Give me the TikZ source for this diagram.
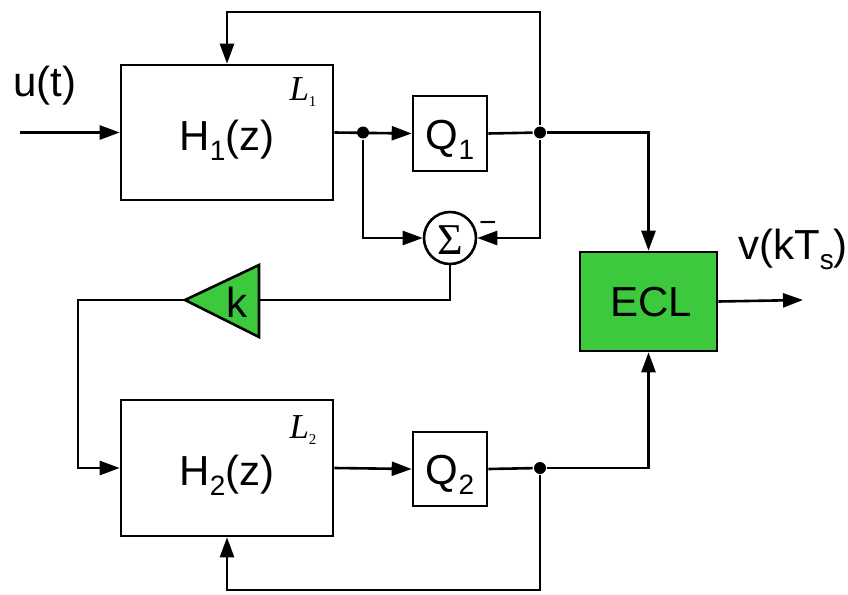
\documentclass[tikz,border=0pt]{standalone}
\usepackage{fontspec}
\setmainfont{Liberation Sans}
\newfontfamily\serifrm{Liberation Serif}
\usetikzlibrary{arrows.meta,calc}
\definecolor{eclgreen}{RGB}{61,201,61}
\newcommand{\lowsub}[1]{\raisebox{-10pt}{\fontsize{28}{28}\selectfont #1}}
\begin{document}
\begin{tikzpicture}[x=1pt,y=-1pt,line width=2.6pt,
  >={Triangle[length=20pt,width=14pt]},
  big/.style={font=\fontsize{42}{48}\selectfont},
  blk/.style={draw,inner sep=0pt,big},
  lbl/.style={inner sep=0pt,big},
  loopname/.style={inner sep=0pt,font=\fontsize{35}{38}\serifrm\itshape},
  dot/.style={circle,fill,inner sep=0pt,minimum size=12pt}]
\useasboundingbox (0,0) rectangle (848,594);
% blocks
\node[blk,minimum width=212pt,minimum height=135pt] (h1) at (227,132.5) {};
\node[lbl] (h1t) at (227,140) {H\lowsub{1}(z)};
\node[blk,minimum width=212pt,minimum height=136pt] (h2) at (227,468) {};
\node[lbl] (h2t) at (227,475) {H\lowsub{2}(z)};
\node[blk,minimum width=74pt,minimum height=75pt] (q1) at (450,133.5) {};
\node[lbl] (q1t) at (450,140) {Q\lowsub{1}};
\node[blk,minimum width=74pt,minimum height=74pt] (q2) at (450,469) {};
\node[lbl] (q2t) at (450,475) {Q\lowsub{2}};
\node[blk,fill=eclgreen,minimum width=137pt,minimum height=99pt] (ecl) at (648.5,301.5) {};
\node[lbl] (eclt) at (651,302) {ECL};
\node[draw,circle,inner sep=0pt,minimum size=52pt] (sum) at (450,238) {};
\node[inner sep=0pt,font=\fontsize{44}{48}\serifrm] (sumt) at (450,240) {Σ};
\node[inner sep=0pt,font=\fontsize{30}{30}\selectfont] (minus) at (488,227) {−};
% gain triangle
\draw[fill=eclgreen] (185,300) coordinate (ktip) -- (259,265) -- (259,337) -- cycle;
\coordinate (kbase) at (259,300);
\node[lbl] (kt) at (237,302) {k};
% loop names
\node[loopname] (l1) at (303,92) {L\raisebox{-6pt}{\fontsize{15}{15}\serifrm\upshape 1}};
\node[loopname] (l2) at (303,430) {L\raisebox{-6pt}{\fontsize{15}{15}\serifrm\upshape 2}};
% signal labels
\node[lbl] (ut) at (45,86) {u(t)};
\node[lbl,anchor=west] (vt) at (737,249) {v(kT\lowsub{s})};
% junctions
\node[dot] (d1) at (363,132.5) {};
\node[dot] (d2) at (540,132.5) {};
\node[dot] (d3) at (540,468) {};
\coordinate (in) at (20,132.5);
\coordinate (out) at (803,300);
% connectors
\draw[->] (in) -- (h1.west);
\draw[->] (h1.east) -- (q1.west);
\draw[->] (d1) |- (sum.west);
\draw (q1.east) -- (d2);
\draw[->] (d2) -| (ecl.north);
\draw[->] (d2) -- (540,12) -| (h1.north);
\draw[->] (d2) |- (sum.east);
\draw (sum.south) |- (kbase);
\draw[->] (ktip) -- (78,300) |- (h2.west);
\draw[->] (h2.east) -- (q2.west);
\draw (q2.east) -- (d3);
\draw[->] (d3) -| (ecl.south);
\draw[->] (d3) -- (540,590) -| (h2.south);
\draw[->] (ecl.east) -- (out);
\end{tikzpicture}
\end{document}
